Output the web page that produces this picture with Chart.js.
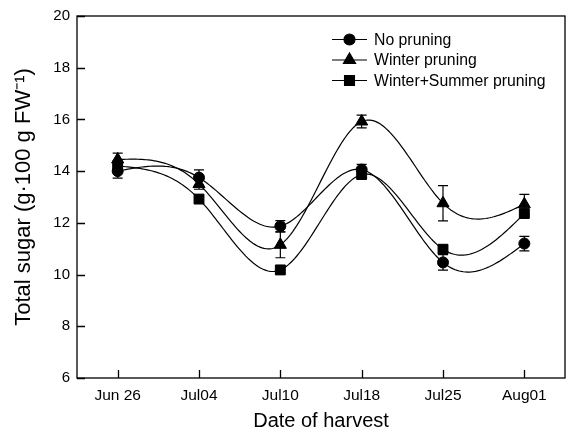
<!DOCTYPE html>
<html>
<head>
<meta charset="utf-8">
<script src="https://cdn.jsdelivr.net/npm/chart.js@4.4.0/dist/chart.umd.min.js"></script>
<style>
html,body{margin:0;padding:0;background:#fff;}
#wrap{width:573px;height:434px;position:relative;}
</style>
</head>
<body>
<div id="wrap"><canvas id="c" width="573" height="434"></canvas></div>
<script>
const categories = ['Jun 26', 'Jul04', 'Jul10', 'Jul18', 'Jul25', 'Aug01'];
const noPruning = [14.0, 13.75, 11.87, 14.06, 10.47, 11.2];
const noPruningErr = [0.27, 0.3, 0.22, 0.2, 0.3, 0.28];
const winterPruning = [14.45, 13.5, 11.15, 15.92, 12.76, 12.72];
const winterPruningErr = [0.25, 0.2, 0.5, 0.25, 0.68, 0.38];
const winterSummerPruning = [14.2, 12.92, 10.18, 13.87, 10.98, 12.36];
const winterSummerPruningErr = [0.2, 0.1, 0.15, 0.15, 0.15, 0.1];
const yTicks = [6, 8, 10, 12, 14, 16, 18, 20];
const seriesNames = ['No pruning', 'Winter pruning', 'Winter+Summer pruning'];

const FONT = "'Liberation Sans', Arial, sans-serif";

function ds(label, data, err, style, r) {
  return {
    label, data, errors: err,
    borderColor: '#000', backgroundColor: '#000',
    borderWidth: 1.2, showLine: false,
    pointStyle: style, pointRadius: r, pointHoverRadius: r,
    pointBackgroundColor: '#000', pointBorderColor: '#000', pointBorderWidth: 1,
    fill: false
  };
}

// natural cubic spline through the points that Chart.js has placed on its scales
const splineLines = {
  id: 'splineLines',
  beforeDatasetsDraw(chart) {
    const ctx = chart.ctx, a = chart.chartArea;
    ctx.save();
    ctx.beginPath();
    ctx.rect(a.left, a.top, a.right - a.left, a.bottom - a.top);
    ctx.clip();
    ctx.strokeStyle = '#000';
    ctx.lineWidth = 1.2;
    chart.data.datasets.forEach((d, i) => {
      const pts = chart.getDatasetMeta(i).data.map(p => ({ x: p.x, y: p.y }));
      const n = pts.length;
      const h = [], M = new Array(n).fill(0);
      for (let k = 0; k < n - 1; k++) h.push(pts[k + 1].x - pts[k].x);
      const A = [], B = [], C = [], D = [];
      for (let k = 1; k < n - 1; k++) {
        A.push(h[k - 1]); B.push(2 * (h[k - 1] + h[k])); C.push(h[k]);
        D.push(6 * ((pts[k + 1].y - pts[k].y) / h[k] - (pts[k].y - pts[k - 1].y) / h[k - 1]));
      }
      const m = B.length;
      for (let k = 1; k < m; k++) {
        const w = A[k] / B[k - 1];
        B[k] -= w * C[k - 1];
        D[k] -= w * D[k - 1];
      }
      const sol = new Array(m);
      for (let k = m - 1; k >= 0; k--) sol[k] = (D[k] - (k < m - 1 ? C[k] * sol[k + 1] : 0)) / B[k];
      for (let k = 0; k < m; k++) M[k + 1] = sol[k];
      ctx.beginPath();
      ctx.moveTo(pts[0].x, pts[0].y);
      for (let k = 0; k < n - 1; k++) {
        const steps = 40;
        for (let s = 1; s <= steps; s++) {
          const t = s / steps, hx = h[k];
          const xx = pts[k].x + t * hx;
          const A1 = 1 - t, B1 = t;
          const yy = A1 * pts[k].y + B1 * pts[k + 1].y +
            ((A1 * A1 * A1 - A1) * M[k] + (B1 * B1 * B1 - B1) * M[k + 1]) * hx * hx / 6;
          ctx.lineTo(xx, yy);
        }
      }
      ctx.stroke();
    });
    ctx.restore();
  }
};

const errorBars = {
  id: 'errorBars',
  afterDatasetsDraw(chart) {
    const ctx = chart.ctx, y = chart.scales.y;
    ctx.save();
    ctx.strokeStyle = '#000';
    ctx.lineWidth = 1.2;
    chart.data.datasets.forEach((d, i) => {
      const meta = chart.getDatasetMeta(i);
      meta.data.forEach((pt, j) => {
        const e = d.errors[j], v = d.data[j];
        const y1 = y.getPixelForValue(v + e), y2 = y.getPixelForValue(v - e);
        const x = pt.x, cw = 5;
        ctx.beginPath();
        ctx.moveTo(x, y1); ctx.lineTo(x, y2);
        ctx.moveTo(x - cw, y1); ctx.lineTo(x + cw, y1);
        ctx.moveTo(x - cw, y2); ctx.lineTo(x + cw, y2);
        ctx.stroke();
      });
    });
    ctx.restore();
  }
};

const frameTicks = {
  id: 'frameTicks',
  afterDraw(chart) {
    const ctx = chart.ctx, a = chart.chartArea, xs = chart.scales.x, ys = chart.scales.y;
    ctx.save();
    ctx.strokeStyle = '#000';
    ctx.lineWidth = 1.3;
    ctx.strokeRect(a.left, a.top, a.right - a.left, a.bottom - a.top);
    ctx.beginPath();
    ys.ticks.forEach(t => {
      const py = Math.round(ys.getPixelForValue(t.value)) + 0.5;
      ctx.moveTo(a.left, py); ctx.lineTo(a.left + 8, py);
    });
    categories.forEach((c, i) => {
      const px = Math.round(xs.getPixelForValue(i)) + 0.5;
      ctx.moveTo(px, a.bottom); ctx.lineTo(px, a.bottom - 8);
    });
    ctx.stroke();
    ctx.restore();
  }
};

const innerLegend = {
  id: 'innerLegend',
  afterDraw(chart) {
    const ctx = chart.ctx, a = chart.chartArea;
    ctx.save();
    ctx.font = '15.8px ' + FONT;
    ctx.fillStyle = '#000';
    ctx.strokeStyle = '#000';
    ctx.textBaseline = 'middle';
    chart.data.datasets.forEach((d, i) => {
      const yy = a.top + 23.5 + i * 20.5;
      const x0 = a.left + 255, x1 = a.left + 290;
      ctx.lineWidth = 1.2;
      ctx.beginPath(); ctx.moveTo(x0, yy); ctx.lineTo(x1, yy); ctx.stroke();
      Chart.helpers.drawPoint(ctx, {pointStyle: d.pointStyle, radius: d.pointRadius, borderWidth: 1}, (x0 + x1) / 2, yy);
      ctx.fillText(d.label, a.left + 297, yy + 1);
    });
    ctx.restore();
  }
};

new Chart(document.getElementById('c'), {
  type: 'line',
  data: {
    labels: categories,
    datasets: [
      ds(seriesNames[0], noPruning, noPruningErr, 'circle', 5.5),
      ds(seriesNames[1], winterPruning, winterPruningErr, 'triangle', 7),
      ds(seriesNames[2], winterSummerPruning, winterSummerPruningErr, 'rect', 7)
    ]
  },
  options: {
    responsive: false,
    animation: false,
    events: [],
    layout: { padding: { left: 0, top: 11, right: 5, bottom: 0 } },
    plugins: { legend: { display: false }, tooltip: { enabled: false } },
    scales: {
      x: {
        type: 'category',
        offset: true,
        grid: { display: false, drawTicks: false },
        border: { display: false },
        ticks: { color: '#000', font: { family: FONT, size: 15.5 }, padding: 8, maxRotation: 0 },
        title: { display: true, text: 'Date of harvest', color: '#000', font: { family: FONT, size: 20 }, padding: { top: 2, bottom: 1 } },
        afterFit(s) { s.height = 56; }
      },
      y: {
        min: 6, max: 20,
        afterBuildTicks(s) { s.ticks = yTicks.map(v => ({ value: v })); },
        grid: { display: false, drawTicks: false },
        border: { display: false },
        ticks: { color: '#000', font: { family: FONT, size: 15 }, padding: 7 },
        title: { display: true, text: 'Total sugar (g·100 g FW⁻¹)', color: '#000', font: { family: FONT, size: 22 }, padding: { top: 11, bottom: 4 } },
        afterFit(s) { s.width = 77; }
      }
    }
  },
  plugins: [splineLines, errorBars, frameTicks, innerLegend]
});
</script>
</body>
</html>
